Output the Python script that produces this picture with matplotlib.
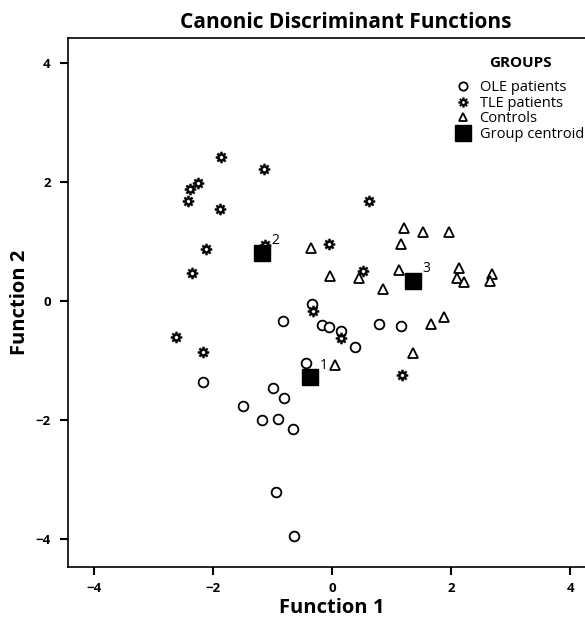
import matplotlib.pyplot as plt
import numpy as np
from matplotlib.path import Path
from matplotlib.lines import Line2D

plt.rcParams['font.family'] = ['Open Sans', 'DejaVu Sans']

# OLE patients (circles)
ole_x = [-0.34, -0.82, -0.17, -0.05, 0.15, 0.39, 0.79, 1.16, -0.44,
         -2.18, -0.99, -0.81, -1.50, -1.18, -0.91, -0.66, -0.94, -0.64]
ole_y = [-0.05, -0.34, -0.40, -0.44, -0.50, -0.77, -0.39, -0.42, -1.04,
         -1.36, -1.46, -1.63, -1.76, -2.00, -1.98, -2.15, -3.21, -3.95]

# TLE patients (gear markers)
tle_x = [-1.87, -1.14, -2.25, -2.39, -2.42, -1.88, -2.12, -2.35, -1.13,
         -0.05, 0.61, 0.52, -0.32, 0.15, -2.62, -2.17, 1.18]
tle_y = [2.42, 2.22, 1.98, 1.88, 1.68, 1.55, 0.87, 0.47, 0.94,
         0.96, 1.68, 0.50, -0.17, -0.62, -0.61, -0.86, -1.24]

# Controls (triangles)
ctl_x = [1.21, 1.53, 1.97, 1.16, -0.35, -0.03, 0.45, 1.13, 0.86,
         2.13, 2.10, 2.22, 2.69, 2.66, 1.66, 1.88, 1.36, 0.05]
ctl_y = [1.23, 1.16, 1.16, 0.96, 0.89, 0.42, 0.39, 0.52, 0.20,
         0.55, 0.39, 0.32, 0.45, 0.34, -0.39, -0.27, -0.87, -1.08]

# group centroids
cen_x = [-0.37, -1.18, 1.36]
cen_y = [-1.28, 0.81, 0.34]
cen_lbl = ['1', '2', '3']


def gear_marker(n=8, r_out=1.0, r_in=0.72, hole=0.33):
    verts = []
    for i in range(n):
        a0 = 2 * np.pi * i / n
        step = 2 * np.pi / n
        for a, r in [(a0 - step * 0.22, r_out), (a0 + step * 0.22, r_out),
                     (a0 + step * 0.30, r_in), (a0 + step * 0.70, r_in)]:
            verts.append((r * np.cos(a), r * np.sin(a)))
    codes = [Path.MOVETO] + [Path.LINETO] * (len(verts) - 1)
    verts.append(verts[0])
    codes.append(Path.CLOSEPOLY)
    t = np.linspace(0, -2 * np.pi, 25)
    hv = [(hole * np.cos(a), hole * np.sin(a)) for a in t]
    verts += hv
    codes += [Path.MOVETO] + [Path.LINETO] * (len(hv) - 2) + [Path.CLOSEPOLY]
    return Path(verts, codes)


gear = gear_marker()

fig = plt.figure(figsize=(5.85, 6.21), dpi=100)
ax = fig.add_axes([0.1154, 0.087, 0.905, 0.852])

ax.plot(ole_x, ole_y, 'o', ms=7, mfc='white', mec='black', mew=1.3, ls='none')
ax.plot(tle_x, tle_y, ls='none', marker=gear, ms=8, mfc='black', mec='black', mew=0.3)
ax.plot(ctl_x, ctl_y, '^', ms=7, mfc='white', mec='black', mew=1.3, ls='none')
ax.plot(cen_x, cen_y, 's', ms=11, color='black', ls='none')
for x, y, s in zip(cen_x, cen_y, cen_lbl):
    ax.annotate(s, (x, y), xytext=(7, 6), textcoords='offset points', fontsize=10)

ax.set_xlim(-4.45, 4.45)
ax.set_ylim(-4.47, 4.42)
ax.set_xticks([-4, -2, 0, 2, 4])
ax.set_yticks([-4, -2, 0, 2, 4])
ax.tick_params(direction='out', length=6, width=1.5, labelsize=9.5)
ax.tick_params(axis='y', pad=6)
ax.tick_params(axis='x', pad=5)
for lab in ax.get_xticklabels() + ax.get_yticklabels():
    lab.set_fontweight('bold')
for sp in ax.spines.values():
    sp.set_linewidth(1.2)

ax.set_xlabel('Function 1', fontsize=14.5, fontweight='bold', labelpad=2)
ax.set_ylabel('Function 2', fontsize=14.5, fontweight='bold', labelpad=4)
fig.text(346 / 585, 1 - 23 / 621, 'Canonic Discriminant Functions',
         ha='center', va='center', fontsize=15, fontweight='bold')

# legend
fig.text(520 / 585, 1 - 63 / 621, 'GROUPS', ha='center', va='center',
         fontsize=11, fontweight='bold')
handles = [
    Line2D([], [], marker='o', ls='none', ms=6, mfc='white', mec='black', mew=1.3),
    Line2D([], [], marker=gear, ls='none', ms=7, mfc='black', mec='black', mew=0.3),
    Line2D([], [], marker='^', ls='none', ms=6, mfc='white', mec='black', mew=1.3),
    Line2D([], [], marker='s', ls='none', ms=11, color='black'),
]
labels = ['OLE patients', 'TLE patients', 'Controls', 'Group centroid']
leg = ax.legend(handles, labels, loc='upper left',
                bbox_to_anchor=(457 / 585, 1 - 80 / 621), bbox_transform=fig.transFigure,
                frameon=False, fontsize=10.5, handlelength=0.8, handletextpad=0.75,
                labelspacing=0.05, borderpad=0, borderaxespad=0)

fig.savefig('out.png', dpi=100)
